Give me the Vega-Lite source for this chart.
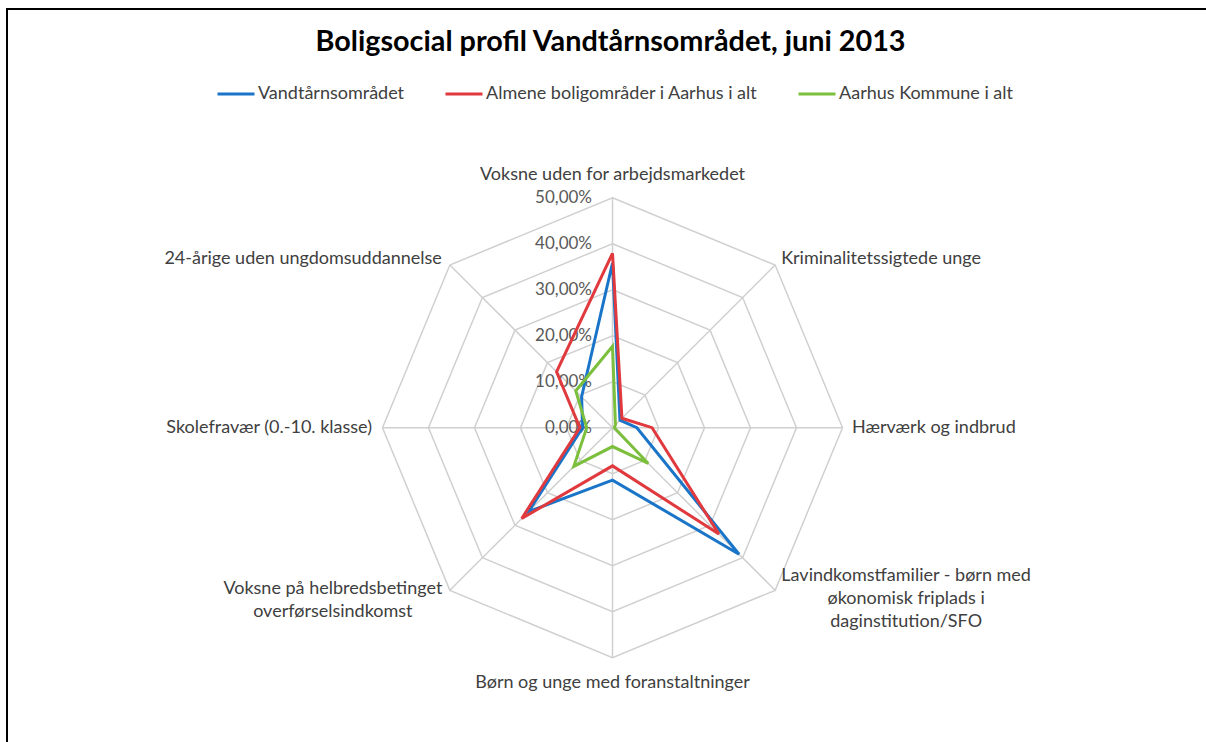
{
  "$schema": "https://vega.github.io/schema/vega-lite/v6.json",
  "width": 1199,
  "height": 733,
  "autosize": {"type": "none"},
  "padding": {"left": 7, "top": 9, "right": 0, "bottom": 0},
  "background": "white",
  "config": {
    "view": {"stroke": "black", "strokeWidth": 2, "strokeDash": [1199, 1932, 740]},
    "font": "Lato",
    "text": {"font": "Lato"}
  },
  "title": {
    "text": "Boligsocial profil Vandtårnsområdet, juni 2013",
    "font": "Lato",
    "fontSize": 28.8,
    "fontWeight": "bold",
    "color": "#000000",
    "anchor": "middle",
    "baseline": "alphabetic",
    "offset": 0,
    "dx": 4,
    "dy": 71
  },
  "datasets": {
    "axes": [
      {"category": "Voksne uden for arbejdsmarkedet"},
      {"category": "Kriminalitetssigtede unge"},
      {"category": "Hærværk og indbrud"},
      {"category": "Lavindkomstfamilier - børn med\nøkonomisk friplads i\ndaginstitution/SFO"},
      {"category": "Børn og unge med foranstaltninger"},
      {"category": "Voksne på helbredsbetinget\noverførselsindkomst"},
      {"category": "Skolefravær (0.-10. klasse)"},
      {"category": "24-årige uden ungdomsuddannelse"}
    ],
    "ticks": [
      {"level": 0, "label": "0,00%"},
      {"level": 10, "label": "10,00%"},
      {"level": 20, "label": "20,00%"},
      {"level": 30, "label": "30,00%"},
      {"level": 40, "label": "40,00%"},
      {"level": 50, "label": "50,00%"}
    ],
    "profile": [
      {"series": "Vandtårnsområdet", "category": "Voksne uden for arbejdsmarkedet", "value": 35.8},
      {"series": "Vandtårnsområdet", "category": "Kriminalitetssigtede unge", "value": 2.3},
      {"series": "Vandtårnsområdet", "category": "Hærværk og indbrud", "value": 5.3},
      {"series": "Vandtårnsområdet", "category": "Lavindkomstfamilier", "value": 38.9},
      {"series": "Vandtårnsområdet", "category": "Børn og unge med foranstaltninger", "value": 11.4},
      {"series": "Vandtårnsområdet", "category": "Voksne på helbredsbetinget overførselsindkomst", "value": 25.8},
      {"series": "Vandtårnsområdet", "category": "Skolefravær (0.-10. klasse)", "value": 6.5},
      {"series": "Vandtårnsområdet", "category": "24-årige uden ungdomsuddannelse", "value": 9.5},
      {"series": "Almene boligområder i Aarhus i alt", "category": "Voksne uden for arbejdsmarkedet", "value": 37.9},
      {"series": "Almene boligområder i Aarhus i alt", "category": "Kriminalitetssigtede unge", "value": 2.9},
      {"series": "Almene boligområder i Aarhus i alt", "category": "Hærværk og indbrud", "value": 8.6},
      {"series": "Almene boligområder i Aarhus i alt", "category": "Lavindkomstfamilier", "value": 32.7},
      {"series": "Almene boligområder i Aarhus i alt", "category": "Børn og unge med foranstaltninger", "value": 8.3},
      {"series": "Almene boligområder i Aarhus i alt", "category": "Voksne på helbredsbetinget overførselsindkomst", "value": 27.9},
      {"series": "Almene boligområder i Aarhus i alt", "category": "Skolefravær (0.-10. klasse)", "value": 7.1},
      {"series": "Almene boligområder i Aarhus i alt", "category": "24-årige uden ungdomsuddannelse", "value": 17.2},
      {"series": "Aarhus Kommune i alt", "category": "Voksne uden for arbejdsmarkedet", "value": 17.7},
      {"series": "Aarhus Kommune i alt", "category": "Kriminalitetssigtede unge", "value": 0.9},
      {"series": "Aarhus Kommune i alt", "category": "Hærværk og indbrud", "value": 0.4},
      {"series": "Aarhus Kommune i alt", "category": "Lavindkomstfamilier", "value": 11.0},
      {"series": "Aarhus Kommune i alt", "category": "Børn og unge med foranstaltninger", "value": 4.1},
      {"series": "Aarhus Kommune i alt", "category": "Voksne på helbredsbetinget overførselsindkomst", "value": 11.9},
      {"series": "Aarhus Kommune i alt", "category": "Skolefravær (0.-10. klasse)", "value": 5.6},
      {"series": "Aarhus Kommune i alt", "category": "24-årige uden ungdomsuddannelse", "value": 11.3}
    ]
  },
  "layer": [
    {
      "data": {"name": "axes"},
      "transform": [
        {"window": [{"op": "row_number", "as": "k"}]},
        {"calculate": "[10, 20, 30, 40, 50]", "as": "levels"},
        {"flatten": ["levels"], "as": ["level"]},
        {"calculate": "(datum.k - 1) * PI / 4", "as": "angle"},
        {"calculate": "datum.level * sin(datum.angle)", "as": "x"},
        {"calculate": "datum.level * cos(datum.angle)", "as": "y"}
      ],
      "mark": {"type": "line", "interpolate": "linear-closed", "color": "#d0d0d0", "strokeWidth": 1.5},
      "encoding": {
        "x": {"field": "x", "type": "quantitative", "scale": {"domain": [-131.63, 129.02], "nice": false, "zero": false}, "axis": null},
        "y": {"field": "y", "type": "quantitative", "scale": {"domain": [-68.33, 91.02], "nice": false, "zero": false}, "axis": null},
        "detail": {"field": "level", "type": "nominal"},
        "order": {"field": "k", "type": "quantitative"}
      }
    },
    {
      "data": {"name": "axes"},
      "transform": [
        {"window": [{"op": "row_number", "as": "k"}]},
        {"calculate": "(datum.k - 1) * PI / 4", "as": "angle"},
        {"calculate": "50 * sin(datum.angle)", "as": "x"},
        {"calculate": "50 * cos(datum.angle)", "as": "y"},
        {"calculate": "0", "as": "x0"},
        {"calculate": "0", "as": "y0"}
      ],
      "mark": {"type": "rule", "color": "#d0d0d0", "strokeWidth": 1.5},
      "encoding": {
        "x": {"field": "x0", "type": "quantitative", "scale": {"domain": [-131.63, 129.02], "nice": false, "zero": false}, "axis": null},
        "y": {"field": "y0", "type": "quantitative", "scale": {"domain": [-68.33, 91.02], "nice": false, "zero": false}, "axis": null},
        "x2": {"field": "x"},
        "y2": {"field": "y"}
      }
    },
    {
      "data": {"name": "ticks"},
      "transform": [
        {"calculate": "0", "as": "x"},
        {"calculate": "datum.level", "as": "y"}
      ],
      "mark": {"type": "text", "align": "right", "baseline": "middle", "dx": -20.5, "dy": 0.5, "fontSize": 17, "color": "#595959"},
      "encoding": {
        "x": {"field": "x", "type": "quantitative", "scale": {"domain": [-131.63, 129.02], "nice": false, "zero": false}, "axis": null},
        "y": {"field": "y", "type": "quantitative", "scale": {"domain": [-68.33, 91.02], "nice": false, "zero": false}, "axis": null},
        "text": {"field": "label"}
      }
    },
    {
      "data": {"name": "profile"},
      "transform": [
        {"window": [{"op": "row_number", "as": "k"}], "groupby": ["series"]},
        {"calculate": "(datum.k - 1) * PI / 4", "as": "angle"},
        {"calculate": "datum.value * sin(datum.angle)", "as": "x"},
        {"calculate": "datum.value * cos(datum.angle)", "as": "y"}
      ],
      "mark": {"type": "line", "interpolate": "linear-closed", "strokeWidth": 3, "strokeJoin": "miter"},
      "encoding": {
        "x": {"field": "x", "type": "quantitative", "scale": {"domain": [-131.63, 129.02], "nice": false, "zero": false}, "axis": null},
        "y": {"field": "y", "type": "quantitative", "scale": {"domain": [-68.33, 91.02], "nice": false, "zero": false}, "axis": null},
        "order": {"field": "k", "type": "quantitative"},
        "color": {
          "field": "series",
          "type": "nominal",
          "scale": {
            "domain": ["Vandtårnsområdet", "Almene boligområder i Aarhus i alt", "Aarhus Kommune i alt"],
            "range": ["#1a75c8", "#e0393e", "#7cbf3c"]
          },
          "legend": {
            "title": null,
            "orient": "none",
            "legendX": 209,
            "legendY": 65,
            "direction": "horizontal",
            "columns": 3,
            "columnPadding": 34,
            "padding": 0,
            "symbolType": "stroke",
            "symbolSize": 1369,
            "symbolStrokeWidth": 3,
            "labelOffset": 2,
            "labelFont": "Lato",
            "labelFontSize": 18,
            "labelColor": "#404040",
            "labelLimit": 400
          }
        }
      }
    },
    {
      "data": {"name": "axes"},
      "transform": [
        {"window": [{"op": "row_number", "as": "k"}]},
        {"calculate": "(datum.k - 1) * PI / 4", "as": "angle"},
        {"calculate": "50 * sin(datum.angle)", "as": "x"},
        {"calculate": "50 * cos(datum.angle)", "as": "y"}
      ],
      "encoding": {
        "x": {"field": "x", "type": "quantitative", "scale": {"domain": [-131.63, 129.02], "nice": false, "zero": false}, "axis": null},
        "y": {"field": "y", "type": "quantitative", "scale": {"domain": [-68.33, 91.02], "nice": false, "zero": false}, "axis": null},
        "text": {"field": "category"}
      },
      "layer": [
        {"transform": [{"filter": "datum.k == 1"}], "mark": {"type": "text", "align": "center", "baseline": "middle", "dy": -23, "fontSize": 18, "color": "#404040"}},
        {"transform": [{"filter": "datum.k == 2"}], "mark": {"type": "text", "align": "left", "baseline": "middle", "dx": 6, "dy": -6, "fontSize": 18, "color": "#404040"}},
        {"transform": [{"filter": "datum.k == 3"}], "mark": {"type": "text", "align": "left", "baseline": "middle", "dx": 9.5, "dy": 0, "fontSize": 18, "color": "#404040"}},
        {"transform": [{"filter": "datum.k == 4"}], "mark": {"type": "text", "align": "center", "baseline": "top", "dx": 131, "dy": -23, "lineBreak": "\n", "lineHeight": 23, "fontSize": 18, "color": "#404040"}},
        {"transform": [{"filter": "datum.k == 5"}], "mark": {"type": "text", "align": "center", "baseline": "middle", "dy": 25, "fontSize": 18, "color": "#404040"}},
        {"transform": [{"filter": "datum.k == 6"}], "mark": {"type": "text", "align": "center", "baseline": "top", "dx": -117, "dy": -10, "lineBreak": "\n", "lineHeight": 23, "fontSize": 18, "color": "#404040"}},
        {"transform": [{"filter": "datum.k == 7"}], "mark": {"type": "text", "align": "right", "baseline": "middle", "dx": -10.5, "dy": 0, "fontSize": 18, "color": "#404040"}},
        {"transform": [{"filter": "datum.k == 8"}], "mark": {"type": "text", "align": "right", "baseline": "middle", "dx": -8, "dy": -6, "fontSize": 18, "color": "#404040"}}
      ]
    }
  ]
}
